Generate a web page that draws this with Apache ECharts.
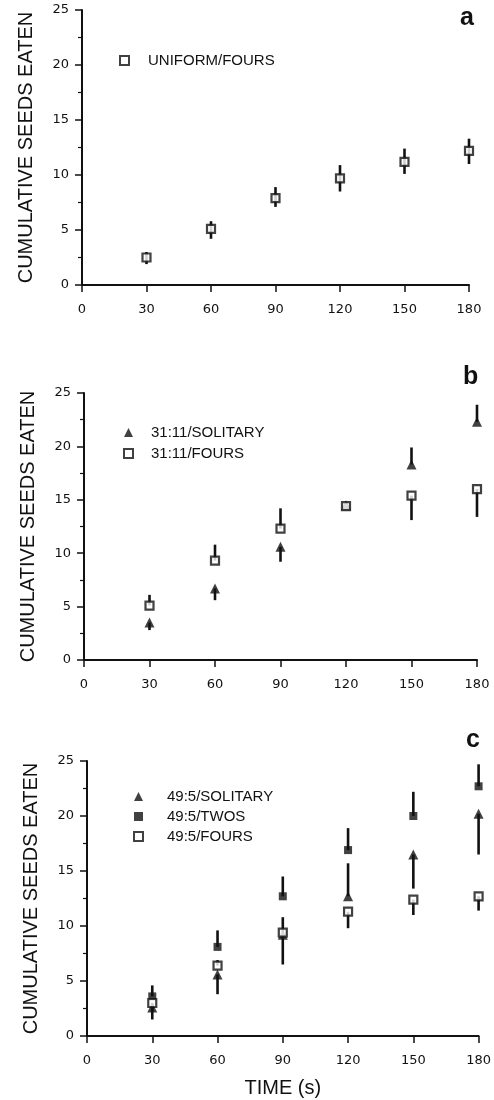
<!DOCTYPE html>
<html>
<head>
<meta charset="utf-8">
<script src="https://cdn.jsdelivr.net/npm/echarts@6/dist/echarts.min.js"></script>
<style>
  html, body { margin: 0; padding: 0; background: #fff; }
  #chart { width: 494px; height: 1100px; }
</style>
</head>
<body>
<div id="chart"></div>
<script>
// time points (s)
const times = [30, 60, 90, 120, 150, 180];
const xTicks = [0, 30, 60, 90, 120, 150, 180];

// panel a
const uniformFours = [2.5, 5.1, 7.9, 9.7, 11.2, 12.2];
const uniformFoursLo = [1.9, 4.2, 7.1, 8.5, 10.1, 11.0];
const uniformFoursHi = [3.0, 5.8, 8.9, 10.9, 12.4, 13.3];

// panel b
const solitaryB = [3.5, 6.7, 10.6, 14.5, 18.3, 22.3];
const solitaryBLo = [2.8, 5.6, 9.2, 14.5, 18.3, 22.3];
const solitaryBHi = [3.5, 6.7, 10.6, 14.5, 19.9, 23.9];
const foursB = [5.1, 9.3, 12.3, 14.4, 15.4, 16.0];
const foursBLo = [5.1, 9.3, 12.3, 14.4, 13.1, 13.4];
const foursBHi = [6.1, 10.8, 14.2, 14.4, 15.4, 16.0];

// panel c
const solitaryC = [2.6, 5.6, 9.2, 12.7, 16.5, 20.2];
const solitaryCLo = [1.5, 3.8, 6.5, 12.7, 13.4, 16.5];
const solitaryCHi = [2.6, 5.6, 9.2, 15.7, 16.5, 20.2];
const twosC = [3.6, 8.1, 12.7, 16.9, 20.0, 22.7];
const twosCLo = [3.6, 8.1, 12.7, 16.9, 20.0, 22.7];
const twosCHi = [4.6, 9.6, 14.5, 18.9, 22.2, 24.7];
const foursC = [3.0, 6.4, 9.4, 11.3, 12.4, 12.7];
const foursCLo = [2.2, 6.4, 9.4, 9.8, 11.0, 11.4];
const foursCHi = [3.0, 6.9, 10.8, 11.3, 12.4, 12.7];

const INK = '#111';
const tickFont = 'DejaVu Sans';
const textFont = 'Liberation Sans';

// 误差线
function renderBar(params, api) {
  const top = api.coord([api.value(0), api.value(2)]);
  const bottom = api.coord([api.value(0), api.value(1)]);
  return {
    type: 'line',
    shape: { x1: top[0], y1: top[1], x2: bottom[0], y2: bottom[1] },
    style: { stroke: INK, lineWidth: 2.6 }
  };
}

function errorSeries(idx, lo, hi) {
  return {
    type: 'custom',
    xAxisIndex: idx,
    yAxisIndex: idx,
    renderItem: renderBar,
    encode: { x: 0, y: [1, 2] },
    data: times.map((t, i) => [t, lo[i], hi[i]]),
    z: 2,
    silent: true
  };
}

function pointSeries(idx, name, vals, kind) {
  const open = kind === 'open';
  return {
    type: 'scatter',
    name: name,
    xAxisIndex: idx,
    yAxisIndex: idx,
    symbol: kind === 'tri' ? 'triangle' : 'rect',
    symbolSize: kind === 'tri' ? 10 : 8,
    itemStyle: open
      ? { color: '#fff', borderColor: INK, borderWidth: 2.2 }
      : { color: INK, borderWidth: 0 },
    data: times.map((t, i) => [t, vals[i]]),
    z: 3
  };
}

function xAxis(idx, withName) {
  return {
    type: 'value',
    gridIndex: idx,
    min: 0,
    max: 180,
    interval: 30,
    name: withName ? 'TIME (s)' : '',
    nameLocation: 'middle',
    nameGap: 42,
    nameTextStyle: { fontFamily: textFont, fontSize: 20, color: INK },
    axisLine: { lineStyle: { color: INK, width: 2 } },
    axisTick: { length: 7, lineStyle: { color: INK, width: 1.5 } },
    axisLabel: { margin: 18, fontFamily: tickFont, fontSize: 13, color: INK,
      formatter: v => xTicks.includes(v) ? String(v) : '' },
    splitLine: { show: false }
  };
}

function yAxis(idx) {
  return {
    type: 'value',
    gridIndex: idx,
    min: 0,
    max: 25,
    interval: 5,
    name: 'CUMULATIVE SEEDS EATEN',
    nameLocation: 'middle',
    nameGap: 46,
    nameRotate: 90,
    nameTextStyle: { fontFamily: textFont, fontSize: 20, color: INK },
    axisLine: { show: true, lineStyle: { color: INK, width: 2 } },
    axisTick: { show: true, length: 7, lineStyle: { color: INK, width: 1.5 } },
    minorTick: { show: true, splitNumber: 2, length: 4, lineStyle: { color: INK, width: 1.2 } },
    axisLabel: { margin: 13, fontFamily: tickFont, fontSize: 13, color: INK },
    splitLine: { show: false }
  };
}

function legend(names, left, top, gap, pad) {
  return {
    orient: 'vertical',
    left: left,
    top: top,
    padding: 0,
    itemWidth: 9,
    itemHeight: 9,
    itemGap: gap,
    data: names,
    selectedMode: false,
    textStyle: { fontFamily: textFont, fontSize: 15, color: INK, lineHeight: 15, padding: [0, 0, 0, pad] }
  };
}

function letter(text, left, top) {
  return {
    text: text,
    left: left,
    top: top,
    textStyle: { fontFamily: textFont, fontSize: 25, fontWeight: 'bold', color: INK }
  };
}

const chart = echarts.init(document.getElementById('chart'), null, { renderer: 'canvas' });

chart.setOption({
  backgroundColor: '#fff',
  animation: false,
  title: [letter('a', 455, 1), letter('b', 458, 360), letter('c', 461, 723)],
  grid: [
    { left: 82, right: 25, top: 10, height: 275 },
    { left: 84, right: 17, top: 393, height: 267 },
    { left: 87, right: 13, top: 761, height: 275 }
  ],
  xAxis: [xAxis(0, false), xAxis(1, false), xAxis(2, true)],
  yAxis: [yAxis(0), yAxis(1), yAxis(2)],
  legend: [
    legend(['UNIFORM/FOURS'], 119, 53, 6, 14),
    legend(['31:11/SOLITARY', '31:11/FOURS'], 123, 425, 6, 13),
    legend(['49:5/SOLITARY', '49:5/TWOS', '49:5/FOURS'], 133, 789, 5, 19)
  ],
  series: [
    errorSeries(0, uniformFoursLo, uniformFoursHi),
    pointSeries(0, 'UNIFORM/FOURS', uniformFours, 'open'),

    errorSeries(1, solitaryBLo, solitaryBHi),
    errorSeries(1, foursBLo, foursBHi),
    pointSeries(1, '31:11/SOLITARY', solitaryB, 'tri'),
    pointSeries(1, '31:11/FOURS', foursB, 'open'),

    errorSeries(2, solitaryCLo, solitaryCHi),
    errorSeries(2, twosCLo, twosCHi),
    errorSeries(2, foursCLo, foursCHi),
    pointSeries(2, '49:5/SOLITARY', solitaryC, 'tri'),
    pointSeries(2, '49:5/TWOS', twosC, 'filled'),
    pointSeries(2, '49:5/FOURS', foursC, 'open')
  ]
});
</script>
</body>
</html>
